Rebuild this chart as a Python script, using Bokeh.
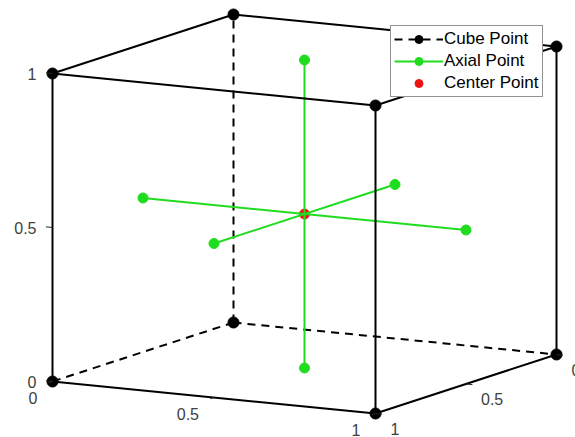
import numpy as np
from bokeh.plotting import figure
from bokeh.models import Range1d, Legend, LegendItem
from bokeh.core.properties import value
from bokeh.embed import file_html
from bokeh.resources import INLINE

# Face-centred design points in coded units
cube_x = [0, 1, 0, 1, 0, 1, 0, 1]
cube_y = [0, 0, 1, 1, 0, 0, 1, 1]
cube_z = [0, 0, 0, 0, 1, 1, 1, 1]

axial_x = [0, 1, 0.5, 0.5, 0.5, 0.5]
axial_y = [0.5, 0.5, 0, 1, 0.5, 0.5]
axial_z = [0.5, 0.5, 0.5, 0.5, 0, 1]

center_x = [0.5]
center_y = [0.5]
center_z = [0.5]

tick_values = [0, 0.5, 1]
tick_labels = ["0", "0.5", "1"]

# Orthographic view: screen position of the origin and screen vector per unit axis
ORIGIN = np.array([233.0, 322.0])
AXES = np.array([[323.0, 32.0],    # x
                 [-181.0, 59.0],   # y
                 [0.0, -308.0]])   # z
BACK_CORNER = (0, 0, 0)            # vertex hidden behind the cube


def project(x, y, z):
    pts = np.column_stack([np.atleast_1d(x), np.atleast_1d(y), np.atleast_1d(z)]).astype(float)
    s = ORIGIN + pts @ AXES
    return s[:, 0], s[:, 1]


W, H = 575, 437
p = figure(width=W, height=H, x_range=Range1d(0, W), y_range=Range1d(H, 0),
           x_axis_type=None, y_axis_type=None, min_border=0,
           toolbar_location=None, output_backend="svg")
p.outline_line_color = None
p.grid.visible = False

FONT = "Liberation Sans"
GREEN = "#1fdc1f"
RED = "#f01212"

# cube edges: vertex pairs that differ in exactly one coordinate
verts = np.column_stack([cube_x, cube_y, cube_z])
vx, vy = project(cube_x, cube_y, cube_z)
solid_xs, solid_ys, dash_xs, dash_ys = [], [], [], []
for i in range(len(verts)):
    for j in range(i + 1, len(verts)):
        if np.sum(verts[i] != verts[j]) == 1:
            hidden = tuple(verts[i]) == BACK_CORNER or tuple(verts[j]) == BACK_CORNER
            (dash_xs if hidden else solid_xs).append([vx[i], vx[j]])
            (dash_ys if hidden else solid_ys).append([vy[i], vy[j]])

r_dash = p.multi_line(dash_xs, dash_ys, line_color="black", line_width=2, line_dash="8 6")

# axial star through the centre
ax_, ay_ = project(axial_x, axial_y, axial_z)
axial_xs = [[ax_[k], ax_[k + 1]] for k in range(0, len(ax_), 2)]
axial_ys = [[ay_[k], ay_[k + 1]] for k in range(0, len(ay_), 2)]
cx, cy = project(center_x, center_y, center_z)
r_center = p.scatter(cx, cy, size=10, marker="circle", fill_color=RED, line_color=RED)
r_axial_line = p.multi_line(axial_xs, axial_ys, line_color=GREEN, line_width=2)
r_axial_pts = p.scatter(ax_, ay_, size=10, marker="circle", fill_color=GREEN, line_color=GREEN)

p.multi_line(solid_xs, solid_ys, line_color="black", line_width=2)
r_verts = p.scatter(vx, vy, size=11, marker="circle", fill_color="black", line_color="black")

# axis ticks and labels along the front/bottom edges
t = np.array(tick_values, dtype=float)
one = np.ones_like(t)
zero = np.zeros_like(t)
TL = 0.02
axis_specs = [
    # (tick positions, tick direction, label align, x_offset, y_offset)
    ((t, one, zero), (0, TL, 0), "right", -15, 16),
    ((one, t, zero), (TL, 0, 0), "left", 15, 15),
    ((zero, one, t), (-TL, 0, 0), "right", -16, 0),
]
for (X, Y, Z), (dx, dy, dz), align, xo, yo in axis_specs:
    sx0, sy0 = project(X, Y, Z)
    sx1, sy1 = project(X + dx, Y + dy, Z + dz)
    p.segment(sx0, sy0, sx1, sy1, line_color="#262626", line_width=1)
    p.text(sx0, sy0, text=tick_labels, text_align=align, text_baseline="middle",
           x_offset=xo, y_offset=yo, text_font=value(FONT), text_font_size="16px",
           text_color="#404040")

legend = Legend(items=[
    LegendItem(label="Cube Point", renderers=[r_dash, r_verts]),
    LegendItem(label="Axial Point", renderers=[r_axial_line, r_axial_pts]),
    LegendItem(label="Center Point", renderers=[r_center]),
], location=(390, 340), margin=0, padding=3, spacing=2,
    glyph_width=49, glyph_height=20, label_height=20, label_standoff=1,
    label_text_font=FONT, label_text_font_size="17px", label_text_color="black",
    background_fill_color="white", background_fill_alpha=1.0,
    border_line_color="#262626", border_line_width=1)
p.add_layout(legend)

open("out.html", "w").write(file_html(p, INLINE))
